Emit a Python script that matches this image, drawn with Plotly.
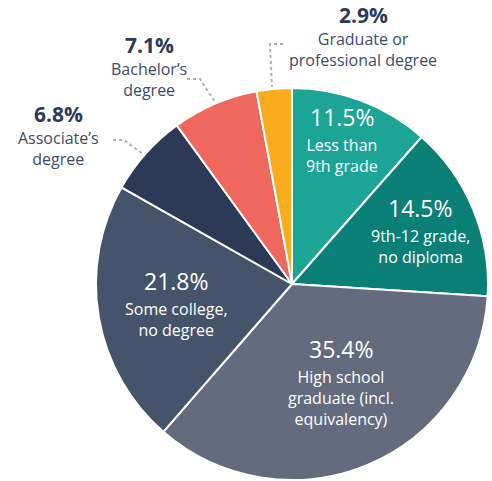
import plotly.graph_objects as go
import math

categories = ["Less than 9th grade", "9th-12 grade, no diploma", "High school graduate (incl. equivalency)",
              "Some college, no degree", "Associate's degree", "Bachelor's degree", "Graduate or professional degree"]
display_labels = ["Less than<br>9th grade", "9th-12 grade,<br>no diploma", "High school<br>graduate (incl.<br>equivalency)",
                  "Some college,<br>no degree", "Associate’s<br>degree", "Bachelor’s<br>degree", "Graduate or<br>professional degree"]
values = [11.5, 14.5, 35.4, 21.8, 6.8, 7.1, 2.9]
colors = ["#1ca596", "#0a8077", "#646b7d", "#46546b", "#2c3a57", "#f0675d", "#f9ad1c"]

W, H = 492, 481
FONT = "Open Sans"
CX, CY, R = 292, 284, 196  # pie centre / radius in pixels (layout)

fig = go.Figure(go.Pie(
    labels=categories, values=values, sort=False, direction="clockwise", rotation=0,
    marker=dict(colors=colors, line=dict(color="white", width=2)),
    textinfo="none", hoverinfo="label+value", showlegend=False,
    domain=dict(x=[(CX - R) / W, (CX + R) / W], y=[1 - (CY + R) / H, 1 - (CY - R) / H]),
))

annotations = []

# inside labels: placed along each slice's mid-angle (radius fraction, angle nudge in degrees)
label_radius = [0.78, 0.71, 0.56, 0.60]
label_angle_nudge = [-1.5, 0, -4, 0]
total = sum(values)
cum = 0.0
for i, v in enumerate(values):
    mid = (cum + v / 2) / total * 2 * math.pi
    cum += v
    if i >= len(label_radius):
        continue
    a = mid + math.radians(label_angle_nudge[i])
    bx = CX + label_radius[i] * R * math.sin(a)
    by = CY - label_radius[i] * R * math.cos(a)
    nlines = display_labels[i].count("<br>") + 1
    block_h = 26 + 20 * nlines
    top = by - block_h / 2
    annotations.append(dict(x=bx / W, y=1 - (top + 10) / H, xref="paper", yref="paper", showarrow=False,
                            text=f"{v:.1f}%", font=dict(family=FONT, size=23, color="white"),
                            xanchor="center", yanchor="middle", borderpad=0))
    annotations.append(dict(x=bx / W, y=1 - (top + 26) / H, xref="paper", yref="paper", showarrow=False,
                            text=display_labels[i], font=dict(family=FONT, size=16, color="white"),
                            xanchor="center", yanchor="top", borderpad=0))

# outside labels
outside_pos = {4: (58, 114), 5: (149, 45), 6: (363, 15)}
for i, (x, y) in outside_pos.items():
    annotations.append(dict(x=x / W, y=1 - y / H, xref="paper", yref="paper", showarrow=False,
                            text=f"<b>{values[i]:.1f}%</b>", font=dict(family=FONT, size=21, color="#2c3a57"),
                            xanchor="center", yanchor="middle", borderpad=0))
    annotations.append(dict(x=x / W, y=1 - (y + 12) / H, xref="paper", yref="paper", showarrow=False,
                            text=display_labels[i], font=dict(family=FONT, size=16, color="#3d4a66"),
                            xanchor="center", yanchor="top", borderpad=0))

# dotted leader lines
leaders = [
    [(113, 140), (124, 140), (143, 154)],
    [(187, 79), (200, 79), (215, 102)],
    [(283, 44), (270, 44), (272, 87)],
]
shapes = []
for pts in leaders:
    path = "M " + " L ".join(f"{x / W} {1 - y / H}" for x, y in pts)
    shapes.append(dict(type="path", path=path, xref="paper", yref="paper",
                       line=dict(color="#a9adb8", width=2, dash="dot")))

fig.update_layout(width=W, height=H, margin=dict(l=0, r=0, t=0, b=0),
                  paper_bgcolor="white", plot_bgcolor="white",
                  annotations=annotations, shapes=shapes)
fig.write_html("out.html", config={"displayModeBar": False},
               post_script="document.body.style.margin='0';document.body.style.overflow='hidden';")
